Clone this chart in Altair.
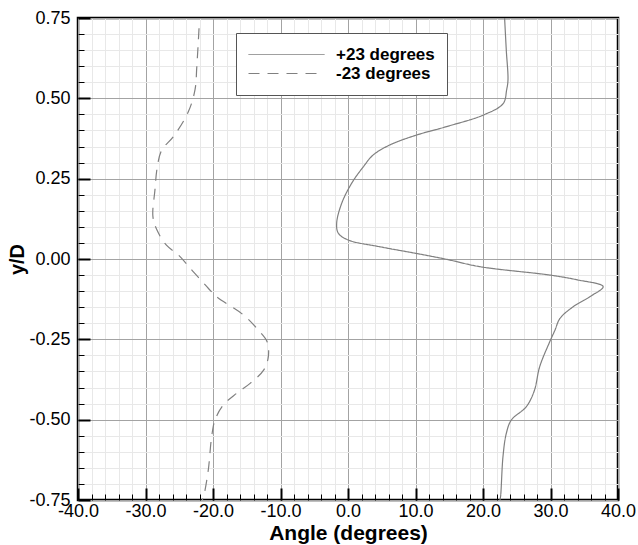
import altair as alt
import pandas as pd

# +23 degrees (solid) curve
plus_angle = [23.2, 23.45, 23.7, 23.5, 23.0, 20.05, 14.6, 10.2, 6.2, 3.75, 2.27, 0.55, -0.94,
              -1.68, -1.43, 0.05, 4.74, 10.2, 14.6, 19.56, 29.9, 34.0, 37.8, 35.85, 33.4, 31.4,
              30.67, 29.9, 28.4, 27.6, 26.4, 24.2, 23.45, 22.96, 22.6, 22.5]
plus_y = [0.75, 0.65, 0.557, 0.526, 0.484, 0.448, 0.412, 0.386, 0.355, 0.324, 0.287, 0.236,
          0.173, 0.111, 0.08, 0.059, 0.038, 0.017, -0.001, -0.024, -0.05, -0.065, -0.086,
          -0.117, -0.148, -0.185, -0.221, -0.257, -0.335, -0.41, -0.46, -0.501, -0.543,
          -0.615, -0.74, -0.75]

# -23 degrees (dashed) curve
minus_angle = [-22.07, -22.4, -22.67, -23.66, -25.9, -27.6, -28.25, -28.6, -28.9, -28.3,
               -26.9, -25.1, -22.9, -20.7, -19.5, -15.5, -13.3, -12.0, -11.8, -12.5, -14.5,
               -16.5, -18.5, -19.7, -20.2, -20.7, -21.4, -21.6]
minus_y = [0.718, 0.598, 0.526, 0.458, 0.38, 0.339, 0.287, 0.215, 0.132, 0.09, 0.043, 0.012,
           -0.04, -0.091, -0.117, -0.174, -0.221, -0.257, -0.304, -0.346, -0.387, -0.418,
           -0.455, -0.501, -0.553, -0.657, -0.74, -0.75]

series_names = ["+23 degrees", "-23 degrees"]
major_x = [-40, -30, -20, -10, 0, 10, 20, 30, 40]
minor_x = [v for v in range(-40, 41, 2)]
major_y = [-0.75, -0.5, -0.25, 0.0, 0.25, 0.5, 0.75]
minor_y = [round(-0.75 + 0.05 * k, 2) for k in range(31)]

rows = []
for i, (a, yv) in enumerate(zip(plus_angle, plus_y)):
    rows.append({"angle": a, "y": yv, "series": series_names[0], "i": i})
for i, (a, yv) in enumerate(zip(minus_angle, minus_y)):
    rows.append({"angle": a, "y": yv, "series": series_names[1], "i": i})
df = pd.DataFrame(rows)

FONT = "Liberation Sans"
GRAY = "#808080"

dash_scale = alt.Scale(domain=series_names, range=[[1, 0], [11, 8]])
legend = alt.Legend(
    title=None, orient="none", legendX=158, legendY=15, padding=12,
    strokeColor="#555555", fillColor="white", symbolType="stroke",
    symbolSize=5776, clipHeight=19, rowPadding=0, labelFontSize=17,
    labelFontWeight="bold", labelFont=FONT, labelColor="black", labelOffset=11,
    symbolStrokeWidth=1, symbolStrokeColor=GRAY, cornerRadius=0,
)

xscale = alt.Scale(domain=[-40, 40], nice=False, zero=False)
yscale = alt.Scale(domain=[-0.75, 0.75], nice=False, zero=False)

minor_xaxis = alt.Axis(values=minor_x, orient="bottom", offset=-6, tickSize=6, tickColor="black",
                       tickWidth=1, labels=False, domain=False, grid=True, gridColor="#e8e8e8",
                       gridWidth=1, title=None)
minor_yaxis = alt.Axis(values=minor_y, orient="left", offset=-6, tickSize=6, tickColor="black",
                       tickWidth=1, labels=False, domain=False, grid=True, gridColor="#e8e8e8",
                       gridWidth=1, title=None)

major_xaxis = alt.Axis(
    values=major_x, orient="bottom", offset=-12, tickSize=12, tickColor="black", tickWidth=2,
    labelExpr="datum.value < 0 ? '-' + format(-datum.value, '.1f') : format(datum.value, '.1f')",
    labelFont=FONT, labelFontSize=18, labelColor="black", labelPadding=2, labelFlush=False,
    labelOverlap=False, domain=False, grid=True, gridColor="#a3a3a3", gridWidth=1,
    title="Angle (degrees)", titleFont=FONT, titleFontSize=21, titleFontWeight="bold",
    titleColor="black", titlePadding=2,
)
major_yaxis = alt.Axis(
    values=major_y, orient="left", offset=-12, tickSize=12, tickColor="black", tickWidth=2,
    labelExpr="datum.value < 0 ? '-' + format(-datum.value, '.2f') : format(datum.value, '.2f')",
    labelFont=FONT, labelFontSize=18, labelColor="black", labelPadding=8, labelFlush=False,
    labelOverlap=False, domain=False, grid=True, gridColor="#a3a3a3", gridWidth=1,
    title="y/D", titleFont=FONT, titleFontSize=20, titleFontWeight="bold",
    titleColor="black", titlePadding=1,
)

base = alt.Chart(df)

minus_layer = base.transform_filter(alt.datum.series == series_names[1]).mark_line(
    color=GRAY, strokeWidth=1.2, interpolate="catmull-rom"
).encode(
    x=alt.X("angle:Q", scale=xscale, axis=minor_xaxis),
    y=alt.Y("y:Q", scale=yscale, axis=minor_yaxis),
    strokeDash=alt.StrokeDash("series:N", scale=dash_scale, legend=legend),
    order=alt.Order("i:Q"),
)

plus_layer = base.transform_filter(alt.datum.series == series_names[0]).mark_line(
    color=GRAY, strokeWidth=1.2, interpolate="catmull-rom"
).encode(
    x=alt.X("angle:Q", scale=xscale, axis=major_xaxis),
    y=alt.Y("y:Q", scale=yscale, axis=major_yaxis),
    strokeDash=alt.StrokeDash("series:N", scale=dash_scale, legend=legend),
    order=alt.Order("i:Q"),
)

chart = alt.layer(minus_layer, plus_layer).resolve_axis(
    x="independent", y="independent"
).properties(
    width=540, height=482,
    autosize=alt.AutoSizeParams(type="none"),
    padding={"left": 78, "top": 18, "right": 20, "bottom": 45},
    background="white",
).configure_view(stroke="black", strokeWidth=2.5)

chart.save("out.html", embed_options={"renderer": "svg", "actions": False})
